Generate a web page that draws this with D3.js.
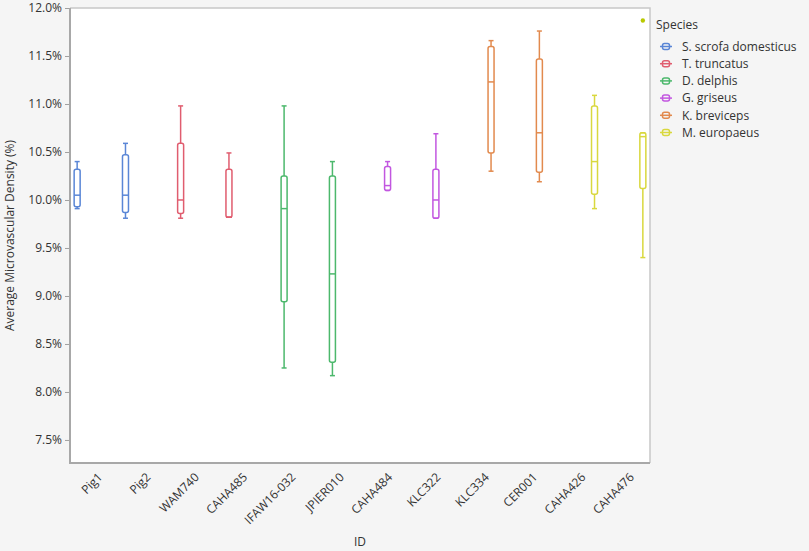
<!DOCTYPE html>
<html><head><meta charset="utf-8">
<script src="https://cdn.jsdelivr.net/npm/d3@7"></script>
<style>
body{margin:0;background:#f5f5f5;font-family:"Open Sans","Noto Sans",sans-serif;}
</style></head><body>
<svg id="c" width="809" height="551"></svg>
<script>
const ids = ["Pig1","Pig2","WAM740","CAHA485","IFAW16-032","JPIER010","CAHA484","KLC322","KLC334","CER001","CAHA426","CAHA476"];
const idSpecies = ["S. scrofa domesticus","S. scrofa domesticus","T. truncatus","T. truncatus","D. delphis","D. delphis","G. griseus","G. griseus","K. breviceps","K. breviceps","M. europaeus","M. europaeus"];
const species = ["S. scrofa domesticus","T. truncatus","D. delphis","G. griseus","K. breviceps","M. europaeus"];
const colors = ["#5a86d6","#e05d6f","#4cb86c","#c257e0","#e28a4e","#d9d83e"];
// five-number summaries (%)
const whiskerLow  = [9.91, 9.81, 9.81, 9.82, 8.25, 8.17, 10.10, 9.81, 10.30, 10.19, 9.91, 9.40];
const q1          = [9.93, 9.87, 9.86, 9.82, 8.94, 8.31, 10.10, 9.81, 10.49, 10.29, 10.06, 10.12];
const median      = [10.05,10.05,10.00, 9.82, 9.91, 9.23, 10.15, 10.00, 11.23, 10.70, 10.40, 10.66];
const q3          = [10.32,10.47,10.59,10.32,10.25,10.25, 10.35, 10.32, 11.60, 11.47, 10.98, 10.70];
const whiskerHigh = [10.40,10.59,10.98,10.49,10.98,10.40, 10.40, 10.69, 11.66, 11.76, 11.09, 10.70];
const outlierIds = ["CAHA476"];
const outlierVals = [11.87];
const yTicks = [7.5,8.0,8.5,9.0,9.5,10.0,10.5,11.0,11.5,12.0];

const svg = d3.select("#c");
const L=70, R=650, T=8, B=463;
svg.append("rect").attr("x",L).attr("y",T).attr("width",R-L).attr("height",B-T).attr("fill","#fff");

const x = d3.scaleBand().domain(ids).range([L,R]);
const xs = d3.scalePoint().domain(species).range([0,x.bandwidth()]).padding(1.05);
const y = d3.scaleLinear().domain([7.26,12.0]).range([B,T]);
const col = d3.scaleOrdinal().domain(species).range(colors);

// frame top/right
svg.append("path").attr("d",`M${L},${T}H${R}V${B}`).attr("fill","none").attr("stroke","#c8c8c8").attr("stroke-width",1.5);

// y axis
const ya = svg.append("g").attr("transform",`translate(${L},0)`)
  .call(d3.axisLeft(y).tickValues(yTicks).tickFormat(d=>d3.format(".1f")(d)+"%").tickSize(5).tickPadding(3));
ya.select(".domain").remove();
ya.selectAll(".tick line").attr("stroke","#a0a0a0");
ya.selectAll(".tick text").attr("fill","#333").style("font-size","12px").style("font-family","Open Sans");
svg.append("line").attr("x1",L).attr("x2",L).attr("y1",T).attr("y2",B+1).attr("stroke","#a8a8a8").attr("stroke-width",2);
svg.append("line").attr("x1",L-1).attr("x2",R).attr("y1",B).attr("y2",B).attr("stroke","#a8a8a8").attr("stroke-width",2);

// x axis labels
const xa = svg.append("g").attr("transform",`translate(0,${B})`)
  .call(d3.axisBottom(x).tickSize(0).tickPadding(0));
xa.select(".domain").remove();
xa.selectAll(".tick text").attr("fill","#333").style("font-size","12px").style("font-family","Open Sans")
  .attr("text-anchor","end").attr("dy","0.35em")
  .attr("transform","translate(6,12) rotate(-45)");

svg.append("text").attr("x",(L+R)/2).attr("y",546).attr("text-anchor","middle")
  .attr("fill","#333").style("font-size","12px").text("ID");
svg.append("text").attr("transform",`translate(14,${(T+B)/2}) rotate(-90)`).attr("text-anchor","middle")
  .attr("fill","#333").style("font-size","12px").text("Average Microvascular Density (%)");

// boxes
const bw=6, cw=5;
ids.forEach((id,i)=>{
  const sp = idSpecies[i];
  const cx = x(id)+xs(sp);
  const c = col(sp);
  const g = svg.append("g").attr("stroke",c).attr("fill","none").attr("stroke-width",1.5);
  g.append("line").attr("x1",cx).attr("x2",cx).attr("y1",y(whiskerHigh[i])).attr("y2",y(q3[i]));
  g.append("line").attr("x1",cx).attr("x2",cx).attr("y1",y(q1[i])).attr("y2",y(whiskerLow[i]));
  g.append("line").attr("x1",cx-cw/2).attr("x2",cx+cw/2).attr("y1",y(whiskerHigh[i])).attr("y2",y(whiskerHigh[i]));
  g.append("line").attr("x1",cx-cw/2).attr("x2",cx+cw/2).attr("y1",y(whiskerLow[i])).attr("y2",y(whiskerLow[i]));
  g.append("rect").attr("x",cx-bw/2).attr("width",bw).attr("y",y(q3[i])).attr("height",Math.max(0.5,y(q1[i])-y(q3[i]))).attr("rx",2);
  g.append("line").attr("x1",cx-bw/2).attr("x2",cx+bw/2).attr("y1",y(median[i])).attr("y2",y(median[i]));
});
outlierIds.forEach((id,k)=>{
  const i = ids.indexOf(id);
  const sp = idSpecies[i];
  svg.append("circle").attr("cx",x(id)+xs(sp)).attr("cy",y(outlierVals[k])).attr("r",2.2).attr("fill","#b9c900");
});

// legend
const lg = svg.append("g").attr("transform","translate(656,0)");
lg.append("text").attr("x",0).attr("y",29).attr("fill","#333").style("font-size","12px").text("Species");
species.forEach((s,k)=>{
  const yy = 46.5 + k*17.2;
  const gi = lg.append("g").attr("stroke",col(s)).attr("fill","none").attr("stroke-width",1.5);
  gi.append("line").attr("x1",4).attr("x2",16).attr("y1",yy).attr("y2",yy);
  gi.append("rect").attr("x",6.5).attr("y",yy-3).attr("width",7).attr("height",6).attr("rx",2).attr("fill","#f5f5f5");
  gi.append("line").attr("x1",6.5).attr("x2",13.5).attr("y1",yy).attr("y2",yy);
  lg.append("text").attr("x",26).attr("y",yy).attr("dy","0.35em").attr("fill","#333").style("font-size","12px").text(s);
});
</script></body></html>
